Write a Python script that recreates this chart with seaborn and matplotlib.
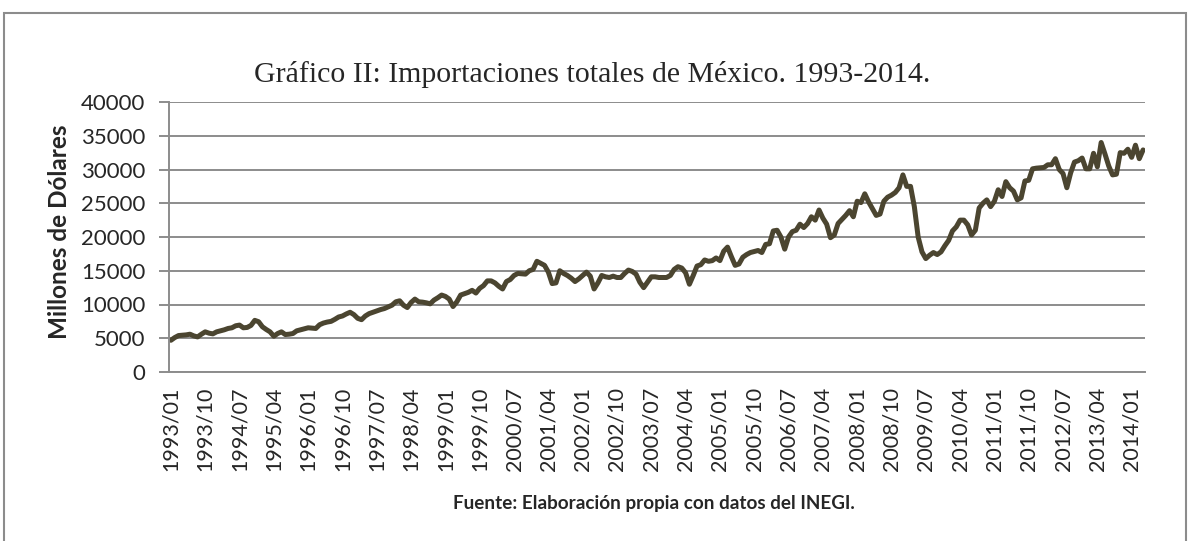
import seaborn as sns
import matplotlib.pyplot as plt
import pandas as pd
from matplotlib.patches import Rectangle

# importaciones totales mensuales (millones de dolares)
imp_1993 = [4700, 5100, 5400, 5450, 5500, 5600, 5350, 5200, 5600, 5950, 5750, 5650]
imp_1994 = [5950, 6100, 6250, 6450, 6550, 6850, 6950, 6550, 6600, 6900, 7650, 7450]
imp_1995 = [6700, 6300, 5950, 5300, 5700, 5950, 5550, 5600, 5700, 6100, 6250, 6400]
imp_1996 = [6550, 6500, 6450, 7000, 7250, 7400, 7500, 7800, 8150, 8300, 8600, 8850]
imp_1997 = [8500, 7950, 7750, 8300, 8650, 8850, 9050, 9250, 9400, 9650, 9900, 10400]
imp_1998 = [10550, 9900, 9550, 10300, 10800, 10400, 10350, 10250, 10100, 10650, 11000, 11400]
imp_1999 = [11200, 10800, 9700, 10400, 11400, 11600, 11800, 12100, 11700, 12400, 12800, 13500]
imp_2000 = [13500, 13200, 12700, 12300, 13400, 13700, 14300, 14600, 14550, 14500, 15000, 15200]
imp_2001 = [16400, 16100, 15800, 14800, 13100, 13200, 15000, 14600, 14300, 13900, 13400, 13800]
imp_2002 = [14300, 14800, 14200, 12300, 13200, 14300, 14100, 14000, 14200, 14000, 14000, 14600]
imp_2003 = [15100, 14900, 14500, 13300, 12500, 13300, 14100, 14100, 14000, 14000, 14000, 14300]
imp_2004 = [15200, 15600, 15400, 14700, 13000, 14300, 15700, 15900, 16600, 16400, 16500, 16900]
imp_2005 = [16500, 17900, 18500, 17100, 15800, 16000, 17000, 17400, 17700, 17850, 18000, 17700]
imp_2006 = [18900, 19000, 20900, 21000, 20000, 18200, 20000, 20800, 21000, 21900, 21400, 22000]
imp_2007 = [23000, 22500, 24000, 22800, 21900, 19900, 20300, 22000, 22600, 23200, 23900, 23000]
imp_2008 = [25300, 25100, 26400, 25200, 24200, 23200, 23400, 25300, 25900, 26200, 26600, 27300]
imp_2009 = [29200, 27500, 27500, 24500, 20000, 17800, 16800, 17300, 17700, 17400, 17800, 18700]
imp_2010 = [19500, 20900, 21500, 22500, 22500, 21800, 20300, 21000, 24300, 25000, 25500, 24500]
imp_2011 = [25300, 27000, 26000, 28200, 27300, 26800, 25500, 25800, 28300, 28400, 30100, 30200]
imp_2012 = [30250, 30300, 30700, 30700, 31600, 30000, 29400, 27300, 29500, 31100, 31300, 31700]
imp_2013 = [30100, 30100, 32400, 30400, 34000, 32300, 30500, 29200, 29300, 32500, 32400, 33000]
imp_2014 = [31800, 33600, 31600, 32900]

values = (imp_1993 + imp_1994 + imp_1995 + imp_1996 + imp_1997 + imp_1998 + imp_1999
          + imp_2000 + imp_2001 + imp_2002 + imp_2003 + imp_2004 + imp_2005 + imp_2006
          + imp_2007 + imp_2008 + imp_2009 + imp_2010 + imp_2011 + imp_2012 + imp_2013
          + imp_2014)
months = [f"{y}/{m:02d}" for y in range(1993, 2015) for m in range(1, 13)][:len(values)]

df = pd.DataFrame({"mes": months, "valor": values})
df["pos"] = range(len(df))

sns.set_style("white")
plt.rcParams['font.family'] = ['Lato', 'DejaVu Sans']

grey = "#8c8c8c"
fig = plt.figure(figsize=(11.9, 5.41), dpi=100)
ax = fig.add_axes([169 / 1190, 1 - 372 / 541, 976 / 1190, 270 / 541])

sns.lineplot(data=df, x="pos", y="valor", color="#4b4530", linewidth=3.6, ax=ax)

ax.set_xlim(-0.5, len(df) - 0.5)
ax.set_ylim(0, 40000)
ax.set_yticks(range(0, 40001, 5000))
ax.set_yticklabels([str(v) for v in range(0, 40001, 5000)], fontsize=16)
ax.set_xticks(df["pos"][::9])
ax.set_xticklabels(df["mes"][::9], rotation=90, fontsize=15.5)

ax.yaxis.grid(True, color=grey, linewidth=1.4)
ax.xaxis.grid(False)
for s in ["top", "right"]:
    ax.spines[s].set_visible(False)
for s in ["left", "bottom"]:
    ax.spines[s].set_color(grey)
    ax.spines[s].set_linewidth(1.4)
ax.tick_params(axis="y", left=True, length=7, color=grey, width=1.4, pad=10)
ax.tick_params(axis="x", bottom=False, pad=7)

ax.set_xlabel("")
ax.set_ylabel("Millones de Dólares", fontsize=17.5, fontweight="bold")
ax.yaxis.set_label_coords(-0.1, 0.52)

fig.text(0.498, 1 - 75 / 541, "Gráfico II: Importaciones totales de México. 1993-2014.",
         ha="center", va="center", fontsize=21.5, family=["Liberation Serif", "DejaVu Serif"])
fig.text(654 / 1190, 1 - 503 / 541, "Fuente: Elaboración propia con datos del INEGI.",
         ha="center", va="center", fontsize=13.6, fontweight="bold")

# borde exterior del area del grafico
fig.patches.append(Rectangle((4 / 1190, -0.01), 1182 / 1190, 1 - 13 / 541 + 0.01,
                             transform=fig.transFigure, fill=False, edgecolor=grey,
                             linewidth=1.5))

fig.savefig("out.png", dpi=100)
